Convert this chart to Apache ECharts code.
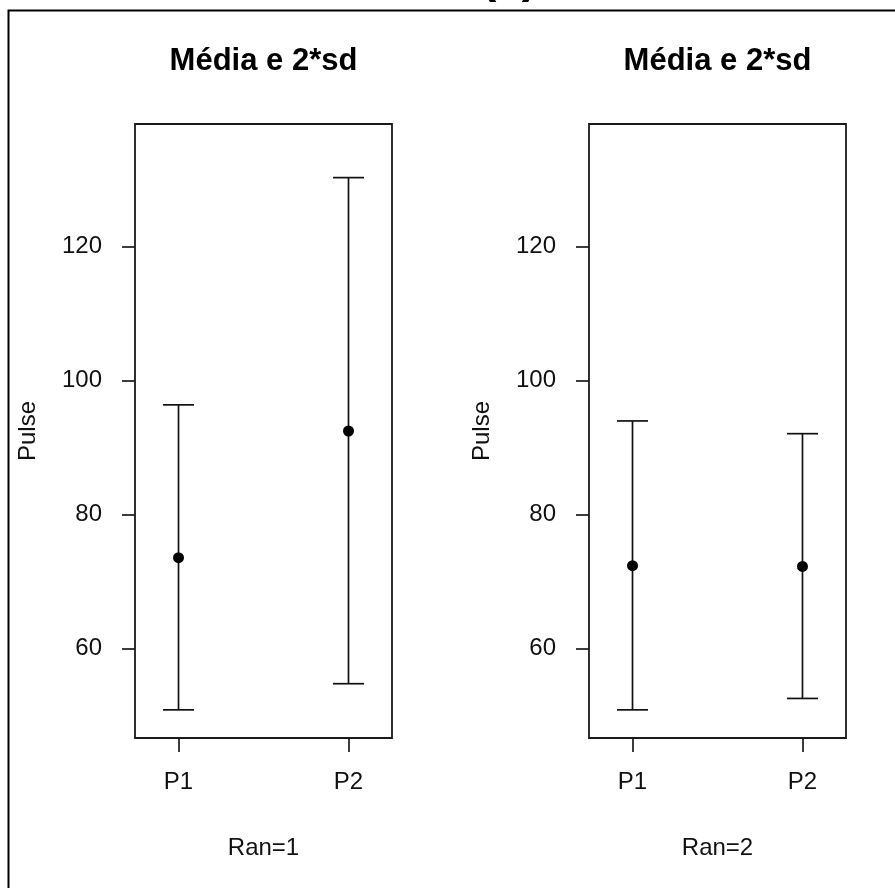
<!DOCTYPE html>
<html>
<head>
<meta charset="utf-8">
<script src="https://cdn.jsdelivr.net/npm/echarts@6/dist/echarts.min.js"></script>
<style>
  html, body { margin: 0; padding: 0; background: #fff; }
  #chart { width: 895px; height: 888px; }
</style>
</head>
<body>
<div id="chart"></div>
<script>
// Pulse by period: mean with ±2 sd bars, one panel per Ran group
const categories = ['P1', 'P2'];
const yTicks = [60, 80, 100, 120];

const ran1Mean  = [73.6, 92.5];
const ran1Lower = [50.9, 54.8];
const ran1Upper = [96.4, 130.3];

const ran2Mean  = [72.4, 72.3];
const ran2Lower = [50.9, 52.6];
const ran2Upper = [94.0, 92.1];

const panelTitles = ['Média e 2*sd', 'Média e 2*sd'];
const panelNames = ['Ran=1', 'Ran=2'];
const yName = 'Pulse';

const FONT = '"Liberation Sans", Arial, Helvetica, sans-serif';
const INK = '#111';

const panels = [
  { left: 135, mean: ran1Mean, lower: ran1Lower, upper: ran1Upper },
  { left: 589, mean: ran2Mean, lower: ran2Lower, upper: ran2Upper }
];
const PW = 257, PT = 124, PH = 614;

function errorBarItem(params, api) {
  const x = api.value(0);
  const pLo = api.coord([x, api.value(1)]);
  const pHi = api.coord([x, api.value(2)]);
  const pM = api.coord([x, api.value(3)]);
  const cap = 15.5;
  const st = { stroke: INK, lineWidth: 1.7 };
  return {
    type: 'group',
    children: [
      { type: 'line', shape: { x1: pLo[0], y1: pLo[1], x2: pHi[0], y2: pHi[1] }, style: st },
      { type: 'line', shape: { x1: pLo[0] - cap, y1: pLo[1], x2: pLo[0] + cap, y2: pLo[1] }, style: st },
      { type: 'line', shape: { x1: pHi[0] - cap, y1: pHi[1], x2: pHi[0] + cap, y2: pHi[1] }, style: st },
      { type: 'circle', shape: { cx: pM[0], cy: pM[1], r: 5.5 }, style: { fill: '#000' } }
    ]
  };
}

const grids = [], xAxes = [], yAxes = [], series = [], graphics = [];

panels.forEach((p, k) => {
  grids.push({
    left: p.left, top: PT, width: PW, height: PH,
    show: true, borderColor: '#1a1a1a', borderWidth: 1.8, backgroundColor: 'transparent'
  });
  xAxes.push({
    gridIndex: k, type: 'value', min: 0.744, max: 2.256,
    axisLine: { show: false },
    splitLine: { show: false },
    axisTick: { show: true, length: 14, customValues: [1, 2], lineStyle: { color: '#1a1a1a', width: 1.7 } },
    axisLabel: {
      customValues: [1, 2],
      formatter: v => categories[Math.round(v) - 1],
      fontSize: 24, color: INK, fontFamily: FONT, margin: 32
    },
    name: panelNames[k], nameLocation: 'middle', nameGap: 98,
    nameTextStyle: { fontSize: 24, color: INK, fontFamily: FONT }
  });
  yAxes.push({
    gridIndex: k, type: 'value', min: 46.7, max: 138.3,
    axisLine: { show: false },
    splitLine: { show: false },
    axisTick: { show: true, length: 13, customValues: yTicks, lineStyle: { color: '#1a1a1a', width: 1.7 } },
    axisLabel: { customValues: yTicks, fontSize: 24, color: INK, fontFamily: FONT, margin: 33 },
    name: yName, nameLocation: 'middle', nameGap: 95, nameRotate: 90,
    nameTextStyle: { fontSize: 24, color: INK, fontFamily: FONT }
  });
  series.push({
    type: 'custom', xAxisIndex: k, yAxisIndex: k,
    renderItem: errorBarItem,
    data: categories.map((c, i) => [i + 1, p.lower[i], p.upper[i], p.mean[i]]),
    silent: true
  });
  graphics.push({
    type: 'text', x: p.left + PW / 2, y: 61,
    style: {
      text: panelTitles[k], fill: '#000',
      font: 'bold 31px ' + FONT, align: 'center', verticalAlign: 'middle'
    }
  });
});

// outer frame and the figure tag partly cut off at the top edge
graphics.push({
  type: 'rect', shape: { x: 8.5, y: 10.5, width: 900, height: 900 },
  style: { fill: 'none', stroke: '#000', lineWidth: 2 }
});
graphics.push({
  type: 'text', x: 509, y: 2,
  style: { text: '(a)', fill: '#000', font: 'bold 46px ' + FONT, align: 'center', verticalAlign: 'bottom' }
});

const chart = echarts.init(document.getElementById('chart'), null, { renderer: 'canvas' });
chart.setOption({
  animation: false,
  backgroundColor: '#fff',
  textStyle: { fontFamily: FONT },
  grid: grids,
  xAxis: xAxes,
  yAxis: yAxes,
  series: series,
  graphic: graphics
});
</script>
</body>
</html>
